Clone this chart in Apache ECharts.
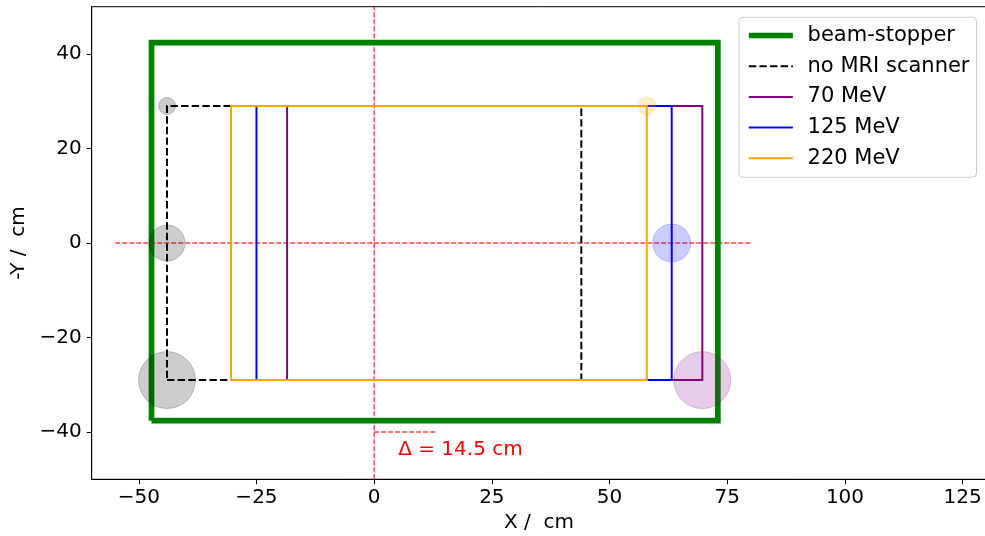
<!DOCTYPE html>
<html>
<head>
<meta charset="utf-8">
<script src="https://cdn.jsdelivr.net/npm/echarts@6/dist/echarts.min.js"></script>
<style>
  html, body { margin: 0; padding: 0; background: #fff; }
  #chart { width: 985px; height: 536px; }
</style>
</head>
<body>
<div id="chart"></div>
<script>
// Field edges (cm) of the beam-stopper and of the spot pattern per energy
const stopperX = [-47.3, 73.0];
const stopperY = [-37.6, 42.4];
const fieldY = [-29.0, 29.0];
const noMriX = [-44.0, 44.0];
const mev70X = [-18.5, 69.7];
const mev125X = [-25.0, 63.2];
const mev220X = [-30.4, 57.9];

// Spot markers: [x, y, diameter in px]
const noMriSpots = [[-44.0, 29.0, 17], [-44.0, 0.0, 36], [-44.0, -29.0, 57]];
const mev220Spots = [[57.9, 29.0, 18]];
const mev125Spots = [[63.2, 0.0, 38]];
const mev70Spots = [[69.7, -29.0, 57]];

// Reference lines
const axisCrossV = [[0, -50], [0, 50]];
const axisCrossH = [[-55, 0], [80, 0]];
const deltaLine = [[0, -40], [13, -40]];
const deltaText = 'Δ = 14.5 cm';
const deltaAnchor = [[5, -43.8]];

// Axis ticks
const xTicks = [-50, -25, 0, 25, 50, 75, 100, 125];
const yTicks = [-40, -20, 0, 20, 40];

// Legend entries
const legendNames = ['beam-stopper', 'no MRI scanner', '70 MeV', '125 MeV', '220 MeV'];

const FONT = 'DejaVu Sans';

function rect(xs, ys) {
  return [[xs[0], ys[0]], [xs[1], ys[0]], [xs[1], ys[1]], [xs[0], ys[1]], [xs[0], ys[0]]];
}
function fmt(v) { return String(v).replace('-', '\u2212'); }

function outline(name, xs, ys, color, width, type, z) {
  return {
    name: name, type: 'line', data: rect(xs, ys), z: z,
    symbol: 'none', showSymbol: false, silent: true,
    color: color,
    lineStyle: { color: color, width: width, type: type, cap: 'butt', join: 'miter' }
  };
}
function spots(data, color, z) {
  return {
    type: 'scatter', data: data, z: z, silent: true,
    symbolSize: function (d) { return d[2]; },
    itemStyle: { color: color, opacity: 0.2, borderColor: color, borderWidth: 1 }
  };
}
function redDash(data) {
  return {
    type: 'line', data: data, z: 1, symbol: 'none', silent: true,
    lineStyle: { color: 'rgba(255,0,0,0.75)', width: 1.4, type: [5, 2] }
  };
}

const seriesList = [
  redDash(axisCrossV),
  redDash(axisCrossH),
  redDash(deltaLine),
  outline(legendNames[0], stopperX, stopperY, '#008000', 5.7, 'solid', 3),
  outline(legendNames[1], noMriX, fieldY, '#000000', 2, [7.4, 3.2], 4),
  outline(legendNames[2], mev70X, fieldY, '#800080', 2, 'solid', 5),
  outline(legendNames[3], mev125X, fieldY, '#0000ff', 2, 'solid', 6),
  outline(legendNames[4], mev220X, fieldY, '#ffa500', 2, 'solid', 7),
  spots(noMriSpots, '#000000', 8),
  spots(mev220Spots, '#ffa500', 8),
  spots(mev125Spots, '#0000ff', 8),
  spots(mev70Spots, '#800080', 8),
  {
    type: 'scatter', data: deltaAnchor, z: 9, silent: true,
    symbolSize: 1, itemStyle: { color: 'rgba(0,0,0,0)' },
    label: {
      show: true, position: 'right', distance: 0,
      formatter: deltaText, color: '#ff0000', fontSize: 20, fontFamily: FONT,
      verticalAlign: 'middle', textBorderWidth: 0, opacity: 1
    }
  }
];

// Legend icons take the stroke of the outline they stand for
const legendData = legendNames.map(function (n) {
  const s = seriesList.find(function (x) { return x.name === n; });
  return { name: n, lineStyle: { width: s.lineStyle.width, type: s.lineStyle.type, color: s.lineStyle.color } };
});

const chart = echarts.init(document.getElementById('chart'), null, { renderer: 'canvas' });
chart.setOption({
  animation: false,
  backgroundColor: '#fff',
  textStyle: { fontFamily: FONT },
  grid: {
    left: 91.7, top: 6.7, right: -1.2, bottom: 56.7,
    show: true, borderColor: '#000', borderWidth: 1,
    containLabel: false, outerBoundsMode: 'none'
  },
  xAxis: {
    type: 'value', min: -60, max: 130,
    name: 'X /  cm', nameLocation: 'middle', nameGap: 33,
    nameTextStyle: { fontSize: 20, color: '#000', fontFamily: FONT },
    axisLine: { show: true, onZero: false, lineStyle: { color: '#000', width: 1 } },
    axisTick: { show: true, length: 5, customValues: xTicks, lineStyle: { color: '#000', width: 1 } },
    axisLabel: { customValues: xTicks, formatter: fmt, fontSize: 20, color: '#000', margin: 8, fontFamily: FONT },
    splitLine: { show: false }
  },
  yAxis: {
    type: 'value', min: -50, max: 50,
    name: '-Y /  cm', nameLocation: 'middle', nameGap: 58, nameRotate: 90,
    nameTextStyle: { fontSize: 20, color: '#000', fontFamily: FONT },
    axisLine: { show: true, onZero: false, lineStyle: { color: '#000', width: 1 } },
    axisTick: { show: true, length: 5, customValues: yTicks, lineStyle: { color: '#000', width: 1 } },
    axisLabel: { customValues: yTicks, formatter: fmt, fontSize: 20, color: '#000', margin: 10, fontFamily: FONT },
    splitLine: { show: false }
  },
  legend: {
    data: legendData,
    orient: 'vertical', left: 739, top: 17.3,
    padding: [7.2, 7, 8, 7],
    itemWidth: 44, itemHeight: 14, itemGap: 8.7,
    selectedMode: false,
    backgroundColor: 'rgba(255,255,255,0.8)',
    borderColor: '#cccccc', borderWidth: 1, borderRadius: 4,
    itemStyle: { opacity: 0, color: 'rgba(0,0,0,0)', borderWidth: 0 },
    textStyle: { fontSize: 21, lineHeight: 22, color: '#000', fontFamily: FONT, padding: [0, 0, 0, 9.7] }
  },
  series: seriesList
});
</script>
</body>
</html>
